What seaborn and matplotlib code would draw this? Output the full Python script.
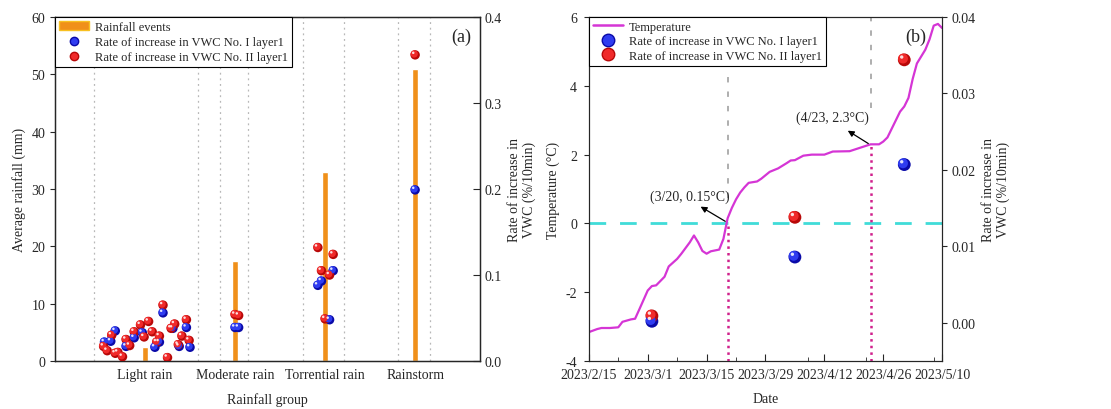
import numpy as np
import pandas as pd
import seaborn as sns
import matplotlib.pyplot as plt
import matplotlib.dates as mdates
from matplotlib.lines import Line2D
from matplotlib.patches import Patch
from matplotlib.transforms import offset_copy

# ---- data panel (a) ----
groups = ["Light rain", "Moderate rain", "Torrential rain", "Rainstorm"]
avg_rain = [2.4, 17.4, 33.0, 51.0]

# rate of increase in VWC (%/10min), per group, with horizontal jitter
light_red = [0.017, 0.012, 0.030, 0.009, 0.010, 0.005, 0.025, 0.018, 0.034, 0.042, 0.028, 0.046,
             0.034, 0.022, 0.029, 0.065, 0.004, 0.038, 0.043, 0.019, 0.029, 0.048, 0.024]
light_red_jit = [-0.46, -0.42, -0.37, -0.33, -0.30, -0.25, -0.21, -0.17, -0.12, -0.05, -0.01, 0.04,
                 0.08, 0.13, 0.16, 0.20, 0.25, 0.29, 0.33, 0.37, 0.41, 0.46, 0.49]
light_blue = [0.022, 0.023, 0.035, 0.017, 0.027, 0.033, 0.016, 0.022, 0.056, 0.038, 0.017, 0.039, 0.016]
light_blue_jit = [-0.45, -0.38, -0.33, -0.21, -0.12, -0.03, 0.11, 0.16, 0.20, 0.31, 0.38, 0.46, 0.50]
mod_red = [0.054, 0.053]
mod_red_jit = [0.0, 0.04]
mod_blue = [0.039, 0.039]
mod_blue_jit = [0.0, 0.04]
tor_red = [0.132, 0.124, 0.105, 0.100, 0.049]
tor_red_jit = [-0.08, 0.09, -0.04, 0.05, 0.0]
tor_blue = [0.088, 0.093, 0.105, 0.048]
tor_blue_jit = [-0.08, -0.04, 0.09, 0.05]
storm_red = [0.356]
storm_blue = [0.199]

# group range guides (x positions on the category axis)
group_bounds = [-0.57, 0.59, 0.83, 1.14, 1.76, 2.21, 2.81, 3.17]

# ---- data panel (b) ----
day_offset = [0, 2, 3, 5, 7, 8, 10, 11, 12, 14, 15, 16, 18, 19, 21, 22, 24, 25, 26, 27, 28, 29,
              31, 32, 33, 34, 35, 36, 37, 38, 40, 41, 43, 45, 47, 48, 49, 51, 53, 56, 58, 62,
              64, 67, 69, 70, 71, 72, 73, 74, 75, 76, 77, 78, 79, 80, 81, 82, 83, 84]
temperature = [-3.16, -3.07, -3.04, -3.04, -3.02, -2.86, -2.79, -2.77, -2.50, -1.95, -1.82, -1.80,
               -1.55, -1.25, -1.03, -0.88, -0.55, -0.35, -0.55, -0.80, -0.88, -0.81, -0.76, -0.45,
               0.15, 0.45, 0.70, 0.90, 1.05, 1.18, 1.22, 1.30, 1.50, 1.60, 1.75, 1.83, 1.84, 1.97,
               2.00, 2.00, 2.09, 2.10, 2.18, 2.30, 2.30, 2.38, 2.50, 2.75, 3.00, 3.25, 3.40, 3.65,
               4.20, 4.65, 4.85, 5.05, 5.35, 5.75, 5.80, 5.68]
start = pd.Timestamp("2023-02-15")
dates = start + pd.to_timedelta(day_offset, unit="D")

vwc_dates = pd.to_datetime(["2023-03-02", "2023-04-05", "2023-05-01"])
vwc_blue = [0.0002, 0.0086, 0.0207]
vwc_red = [0.0009, 0.0138, 0.0344]

tick_dates = pd.to_datetime(["2023-02-15", "2023-03-01", "2023-03-15", "2023-03-29",
                             "2023-04-12", "2023-04-26", "2023-05-10"])
d_320 = pd.Timestamp("2023-03-20")
d_423 = pd.Timestamp("2023-04-23")

sns.set_style("ticks")
plt.rcParams["font.family"] = ["Liberation Serif", "DejaVu Serif"]
plt.rcParams["font.size"] = 10
plt.rcParams["axes.unicode_minus"] = False

BLUE = ("#0a0aa8", "#2f3cf0")
RED = ("#b80808", "#f02a2a")
ORANGE = "#f0901a"


def sphere(ax, x, y, cols, s):
    r = np.sqrt(s)
    sns.scatterplot(x=x, y=y, s=s, color=cols[0], edgecolor="none", ax=ax, zorder=3, legend=False)
    ax.scatter(x, y, s=s * 0.6, color=cols[1], edgecolor="none", zorder=4,
               transform=offset_copy(ax.transData, fig=ax.figure, x=-r * 0.1, y=r * 0.1, units="points"))
    ax.scatter(x, y, s=s * 0.07, color="white", alpha=0.85, edgecolor="none", zorder=5,
               transform=offset_copy(ax.transData, fig=ax.figure, x=-r * 0.2, y=r * 0.22, units="points"))


fig = plt.figure(figsize=(11.11, 4.10), dpi=100)
ax1 = fig.add_axes([0.0495, 0.117, 0.3825, 0.839])
ax3 = fig.add_axes([0.530, 0.117, 0.318, 0.839])

# ---------- panel (a) ----------
for xb in group_bounds:
    ax1.axvline(xb, color="#b8b8b8", ls=(0, (1.5, 3)), lw=0.9, zorder=0)
sns.barplot(x=groups, y=avg_rain, width=0.06, color=ORANGE, saturation=1, ax=ax1, zorder=2)
ax1.set_xlim(-1.0, 3.72)
ax1.set_ylim(0, 60)
ax1.set_yticks([0, 10, 20, 30, 40, 50, 60])
ax1.set_ylabel("Average rainfall (mm)")
ax1.set_xlabel("Rainfall group", labelpad=8)
ax1.tick_params(axis="x", length=0, pad=5)
for sp in ax1.spines.values():
    sp.set_linewidth(1.0)

ax2 = ax1.twinx()
ax2.set_ylim(0, 0.4)
ax2.set_yticks([0.0, 0.1, 0.2, 0.3, 0.4])
ax2.yaxis.set_major_formatter(plt.FormatStrFormatter("%.1f"))
ax2.tick_params(axis="y", direction="in", length=5)
ax2.set_ylabel("Rate of increase in\nVWC (%/10min)")
sets = [(light_blue, light_blue_jit, 0, BLUE), (light_red, light_red_jit, 0, RED),
        (mod_blue, mod_blue_jit, 1, BLUE), (mod_red, mod_red_jit, 1, RED),
        (tor_blue, tor_blue_jit, 2, BLUE), (tor_red, tor_red_jit, 2, RED),
        (storm_blue, [0.0], 3, BLUE), (storm_red, [0.0], 3, RED)]
for vals, jit, pos, cols in sets:
    sphere(ax2, [pos + j for j in jit], vals, cols, 46)
ax1.text(0.955, 0.945, "(a)", transform=ax1.transAxes, fontsize=13, ha="center", va="center")

h_a = [Patch(facecolor=ORANGE, edgecolor="#f8c020"),
       Line2D([], [], ls="none", marker="o", ms=6, mfc=BLUE[1], mec=BLUE[0]),
       Line2D([], [], ls="none", marker="o", ms=6, mfc=RED[1], mec=RED[0])]
leg = ax2.legend(h_a, ["Rainfall events", "Rate of increase in VWC No. I layer1",
                       "Rate of increase in VWC No. II layer1"],
                 loc="upper left", bbox_to_anchor=(0, 1), borderaxespad=0, fontsize=9,
                 fancybox=False, edgecolor="black", framealpha=1, handlelength=2.4,
                 labelspacing=0.25, borderpad=0.3, handletextpad=0.5)
leg.get_frame().set_linewidth(0.8)

# ---------- panel (b) ----------
ax3.axhline(0, color="#40dcd8", lw=2.0, ls=(0, (6, 5)), zorder=1)
ax3.plot([d_320, d_320], [-4, 0], color="#d0208c", ls=":", lw=1.8, zorder=1)
ax3.plot([d_320, d_320], [0.75, 4.3], color="#a8a8a8", ls=(0, (3, 5)), lw=1.3, zorder=1)
ax3.plot([d_423, d_423], [-4, 2.3], color="#d0208c", ls=":", lw=1.8, zorder=1)
ax3.plot([d_423, d_423], [3.35, 6], color="#a8a8a8", ls=(0, (3, 5)), lw=1.3, zorder=1)
sns.lineplot(x=dates, y=temperature, color="#d535d5", lw=1.6, ax=ax3, zorder=2)
ax3.set_xlim(start, pd.Timestamp("2023-05-10"))
ax3.set_ylim(-4, 6)
ax3.set_yticks([-4, -2, 0, 2, 4, 6])
ax3.set_xticks(tick_dates)
ax3.xaxis.set_major_formatter(mdates.DateFormatter("%Y/%-m/%-d"))
ax3.xaxis.set_minor_locator(mdates.DayLocator(bymonthday=[8, 22]))
ax3.tick_params(axis="x", which="both", direction="in", pad=5)
ax3.tick_params(axis="x", which="major", length=5)
ax3.tick_params(axis="x", which="minor", length=3)
ax3.tick_params(axis="y", pad=5)
ax3.set_xlabel("Date", labelpad=8)
ax3.set_ylabel("Temperature (°C)")

ax3.text(pd.Timestamp("2023-03-11"), 0.8, "(3/20, 0.15°C)", ha="center", va="center", fontsize=10)
ax3.annotate("", xy=(pd.Timestamp("2023-03-13"), 0.53), xytext=(d_320, 0.02),
             arrowprops=dict(arrowstyle="-|>", color="black", lw=0.9, mutation_scale=9))
ax3.text(pd.Timestamp("2023-04-14"), 3.1, "(4/23, 2.3°C)", ha="center", va="center", fontsize=10)
ax3.annotate("", xy=(pd.Timestamp("2023-04-17"), 2.74), xytext=(d_423, 2.28),
             arrowprops=dict(arrowstyle="-|>", color="black", lw=0.9, mutation_scale=9))
ax3.text(0.925, 0.945, "(b)", transform=ax3.transAxes, fontsize=13, ha="center", va="center")

ax4 = ax3.twinx()
ax4.set_ylim(-0.005, 0.04)
ax4.set_yticks([0.0, 0.01, 0.02, 0.03, 0.04])
ax4.yaxis.set_major_formatter(plt.FormatStrFormatter("%.2f"))
ax4.set_ylabel("Rate of increase in\nVWC (%/10min)")
sphere(ax4, vwc_dates, vwc_blue, BLUE, 85)
sphere(ax4, vwc_dates, vwc_red, RED, 85)

h_b = [Line2D([], [], color="#d535d5", lw=1.8),
       Line2D([], [], ls="none", marker="o", ms=9, mfc=BLUE[1], mec=BLUE[0]),
       Line2D([], [], ls="none", marker="o", ms=9, mfc=RED[1], mec=RED[0])]
leg2 = ax4.legend(h_b, ["Temperature", "Rate of increase in VWC No. I layer1",
                        "Rate of increase in VWC No. II layer1"],
                  loc="upper left", bbox_to_anchor=(0, 1), borderaxespad=0, fontsize=9,
                  fancybox=False, edgecolor="black", framealpha=1, handlelength=2.4,
                  labelspacing=0.2, borderpad=0.3, handletextpad=0.5)
leg2.get_frame().set_linewidth(0.8)

fig.savefig("out.png", dpi=100)
